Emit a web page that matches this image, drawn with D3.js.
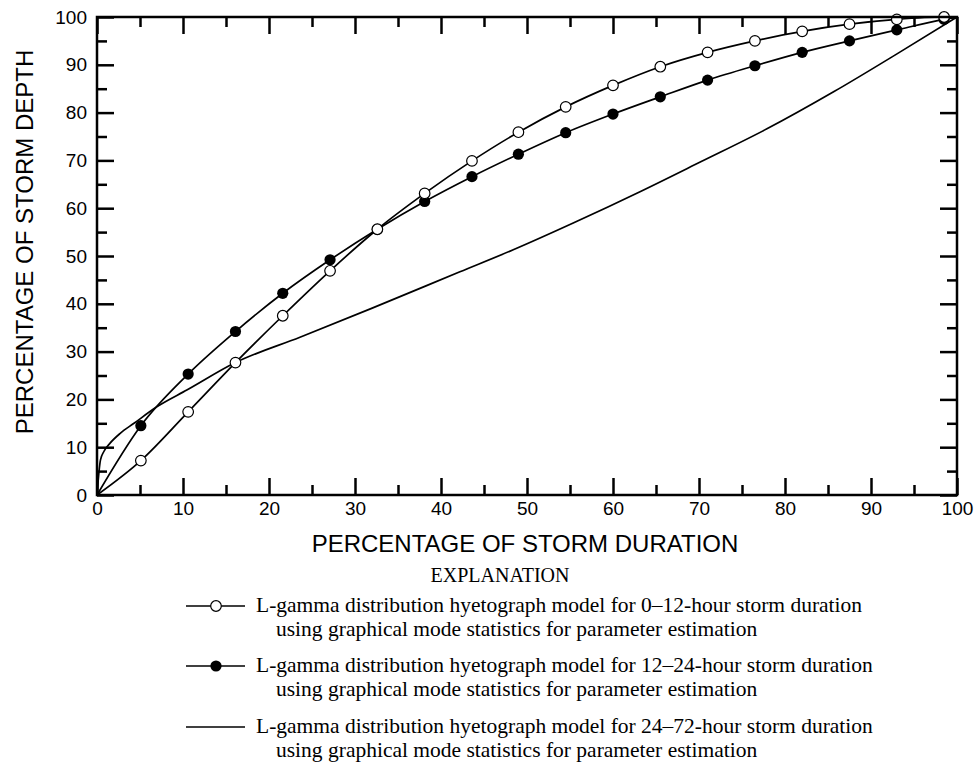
<!DOCTYPE html>
<html>
<head>
<meta charset="utf-8">
<script src="https://cdn.jsdelivr.net/npm/d3@7"></script>
<style>
  html, body { margin: 0; padding: 0; background: #fff; }
  svg { display: block; }
</style>
</head>
<body>
<svg id="chart" width="975" height="764"></svg>
<script>
// Percentage of storm duration at which the model curves are marked
const durationPct = [5.1, 10.6, 16.1, 21.6, 27.1, 32.6, 38.1, 43.6, 49.0, 54.5, 60.0, 65.5, 71.0, 76.5, 82.0, 87.5, 93.0, 98.5];

// 0–12-hour storms (open circles)
const depth0to12 = [7.2, 17.4, 27.7, 37.5, 46.9, 55.6, 63.1, 69.9, 75.9, 81.2, 85.7, 89.6, 92.6, 95.0, 97.0, 98.5, 99.5, 100];

// 12–24-hour storms (filled circles)
const depth12to24 = [14.5, 25.3, 34.2, 42.2, 49.2, 55.6, 61.4, 66.6, 71.3, 75.8, 79.7, 83.3, 86.8, 89.8, 92.6, 95.0, 97.3, 99.5];

// 24–72-hour storms (plain curve)
const duration24to72 = [0, 0.4, 0.8, 1.5, 2.7, 4.3, 7.0, 10.5, 16.1, 23.6, 32.0, 42.2, 48.4, 55.5, 63.2, 70.2, 77.9, 85.7, 93.4, 100];
const depth24to72 = [0, 7.3, 9.1, 10.8, 12.9, 15.0, 18.5, 22.0, 27.7, 33.0, 39.1, 46.7, 51.3, 57.0, 63.5, 69.7, 76.6, 84.4, 92.7, 100];

const majorTicks = [0, 10, 20, 30, 40, 50, 60, 70, 80, 90, 100];
const minorTicks = [5, 15, 25, 35, 45, 55, 65, 75, 85, 95];

const xTitle = "PERCENTAGE OF STORM DURATION";
const yTitle = "PERCENTAGE OF STORM DEPTH";
const legendHeading = "EXPLANATION";
const legendLines = [
  ["L-gamma distribution hyetograph model for 0\u201312-hour storm duration", "using graphical mode statistics for parameter estimation"],
  ["L-gamma distribution hyetograph model for 12\u201324-hour storm duration", "using graphical mode statistics for parameter estimation"],
  ["L-gamma distribution hyetograph model for 24\u201372-hour storm duration", "using graphical mode statistics for parameter estimation"]
];

const svg = d3.select("#chart");
const margin = { left: 97, top: 17, right: 957, bottom: 495 };
const sans = "'Liberation Sans', Arial, Helvetica, sans-serif";
const serif = "'Liberation Serif', 'Times New Roman', Times, serif";

const x = d3.scaleLinear().domain([0, 100]).range([margin.left, margin.right]);
const y = d3.scaleLinear().domain([0, 100]).range([margin.bottom, margin.top]);

const majorLen = 17, minorLen = 10, frameW = 2.5;

// Ticks on all four sides, pointing into the plot
function styleAxis(g) {
  g.select(".domain").remove();
  g.selectAll(".tick line").attr("stroke", "#000").attr("stroke-width", frameW);
  g.selectAll("text").attr("fill", "#000").style("font-family", sans).style("font-size", "19px");
}

svg.append("g").attr("transform", `translate(0,${margin.bottom})`)
  .call(d3.axisBottom(x).tickValues(majorTicks).tickSize(-majorLen).tickPadding(7).tickFormat(d3.format("d")))
  .call(styleAxis);
svg.append("g").attr("transform", `translate(0,${margin.bottom})`)
  .call(d3.axisBottom(x).tickValues(minorTicks).tickSize(-minorLen).tickFormat(""))
  .call(styleAxis);
svg.append("g").attr("transform", `translate(${margin.left},0)`)
  .call(d3.axisLeft(y).tickValues(majorTicks).tickSize(-majorLen).tickPadding(10).tickFormat(d3.format("d")))
  .call(styleAxis);
svg.append("g").attr("transform", `translate(${margin.left},0)`)
  .call(d3.axisLeft(y).tickValues(minorTicks).tickSize(-minorLen).tickFormat(""))
  .call(styleAxis);
svg.append("g").attr("transform", `translate(0,${margin.top})`)
  .call(d3.axisTop(x).tickValues(majorTicks).tickSize(-majorLen).tickFormat(""))
  .call(styleAxis);
svg.append("g").attr("transform", `translate(0,${margin.top})`)
  .call(d3.axisTop(x).tickValues(minorTicks).tickSize(-minorLen).tickFormat(""))
  .call(styleAxis);
svg.append("g").attr("transform", `translate(${margin.right},0)`)
  .call(d3.axisRight(y).tickValues(majorTicks).tickSize(-majorLen).tickFormat(""))
  .call(styleAxis);
svg.append("g").attr("transform", `translate(${margin.right},0)`)
  .call(d3.axisRight(y).tickValues(minorTicks).tickSize(-minorLen).tickFormat(""))
  .call(styleAxis);

// Curves: each runs from the origin to the 100/100 corner
const line = d3.line().x(d => x(d[0])).y(d => y(d[1])).curve(d3.curveMonotoneX);
const withEnds = vals => [[0, 0], ...durationPct.map((d, i) => [d, vals[i]]), [100, 100]];
const curveW = 1.7;

const long = duration24to72.map((d, i) => [d, depth24to72[i]]);
svg.append("path").attr("d", line(long)).attr("fill", "none").attr("stroke", "#000").attr("stroke-width", curveW);
svg.append("path").attr("d", line(withEnds(depth12to24))).attr("fill", "none").attr("stroke", "#000").attr("stroke-width", curveW);
svg.append("path").attr("d", line(withEnds(depth0to12))).attr("fill", "none").attr("stroke", "#000").attr("stroke-width", curveW);

svg.append("g").selectAll("circle").data(durationPct).join("circle")
  .attr("cx", d => x(d)).attr("cy", (d, i) => y(depth12to24[i])).attr("r", 5.6)
  .attr("fill", "#000");
svg.append("g").selectAll("circle").data(durationPct).join("circle")
  .attr("cx", d => x(d)).attr("cy", (d, i) => y(depth0to12[i])).attr("r", 5.3)
  .attr("fill", "#fff").attr("stroke", "#000").attr("stroke-width", 1.2);

// Plot frame
svg.append("rect")
  .attr("x", margin.left).attr("y", margin.top)
  .attr("width", margin.right - margin.left).attr("height", margin.bottom - margin.top)
  .attr("fill", "none").attr("stroke", "#000").attr("stroke-width", frameW);

// Axis titles
svg.append("text").attr("x", (margin.left + margin.right) / 2 - 2).attr("y", 552)
  .attr("text-anchor", "middle").style("font-family", sans).style("font-size", "24px")
  .attr("fill", "#000").text(xTitle);
svg.append("text").attr("transform", `translate(33,${242}) rotate(-90)`)
  .attr("text-anchor", "middle").style("font-family", sans).style("font-size", "24px")
  .attr("fill", "#000").text(yTitle);

// Explanation
svg.append("text").attr("x", 500).attr("y", 582).attr("text-anchor", "middle")
  .style("font-family", serif).style("font-size", "20px").attr("fill", "#000").text(legendHeading);

const legendRows = [606, 666, 727];
const legendFont = "21.5px";
const lg = svg.append("g");
legendRows.forEach((cy, i) => {
  lg.append("line").attr("x1", 186).attr("x2", 245).attr("y1", cy).attr("y2", cy)
    .attr("stroke", "#000").attr("stroke-width", curveW);
  if (i === 0) {
    lg.append("circle").attr("cx", 216).attr("cy", cy).attr("r", 5.3)
      .attr("fill", "#fff").attr("stroke", "#000").attr("stroke-width", 1.2);
  } else if (i === 1) {
    lg.append("circle").attr("cx", 216).attr("cy", cy).attr("r", 5.6).attr("fill", "#000");
  }
  lg.append("text").attr("x", 256).attr("y", cy + 6)
    .style("font-family", serif).style("font-size", legendFont).attr("fill", "#000").text(legendLines[i][0]);
  lg.append("text").attr("x", 276).attr("y", cy + 30)
    .style("font-family", serif).style("font-size", legendFont).attr("fill", "#000").text(legendLines[i][1]);
});
</script>
</body>
</html>
